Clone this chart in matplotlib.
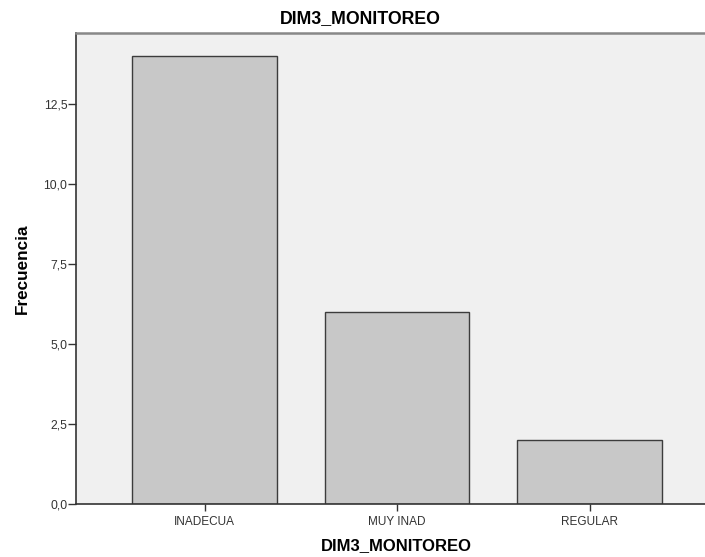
import matplotlib
matplotlib.use("Agg")
import matplotlib.pyplot as plt
from matplotlib.ticker import FuncFormatter

# datos
categorias = ["INADECUA", "MUY INAD", "REGULAR"]
frecuencias = [14, 6, 2]
y_ticks = [0.0, 2.5, 5.0, 7.5, 10.0, 12.5]

plt.rcParams['font.family'] = ['Liberation Sans', 'DejaVu Sans']

fig = plt.figure(figsize=(7.05, 5.57), dpi=100)
ax = fig.add_axes([0.1085, 0.0952, 0.8915, 0.8456])
ax.set_facecolor('#f0f0f0')

x = range(len(categorias))
ax.bar(x, frecuencias, width=0.753, color='#c8c8c8', edgecolor='#3c3c3c', linewidth=1.0, zorder=2)

ax.set_xlim(-0.665, 2.6)
ax.set_ylim(0, 14.72)
ax.set_xticks(list(x))
ax.set_xticklabels(categorias, fontsize=8.5)
ax.set_yticks(y_ticks)
ax.yaxis.set_major_formatter(FuncFormatter(lambda v, p: ('%.1f' % v).replace('.', ',')))
ax.tick_params(axis='y', labelsize=8.8, length=6, width=1, colors='#333333', pad=0.5)
ax.tick_params(axis='x', length=5, width=1, colors='#333333', pad=4)

for s in ['left', 'bottom']:
    ax.spines[s].set_color('#333333')
    ax.spines[s].set_linewidth(1.2)
ax.spines['top'].set_color('#888888')
ax.spines['top'].set_linewidth(1.8)
ax.spines['right'].set_visible(False)

# titulo y etiqueta x posicionados como en SPSS
fig.text(360.5 / 705, 1 - 19 / 557, "DIM3_MONITOREO", fontsize=12.8, fontweight='bold',
         ha='center', va='center')
fig.text(396.5 / 705, 1 - 546 / 557, "DIM3_MONITOREO", fontsize=12, fontweight='bold',
         ha='center', va='center')
ax.set_ylabel("Frecuencia", fontsize=12.3, fontweight='bold', labelpad=10)

fig.savefig("out.png", dpi=100, facecolor='white')
